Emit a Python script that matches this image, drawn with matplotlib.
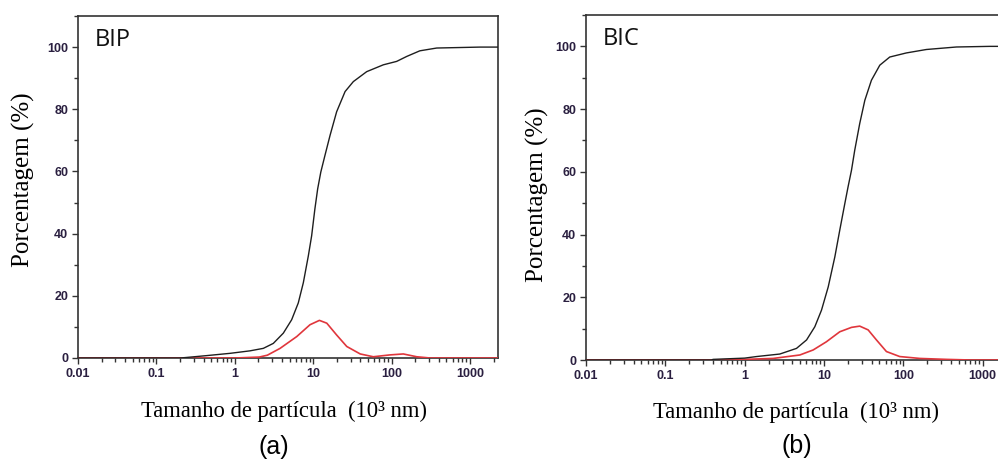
import matplotlib
matplotlib.use("Agg")
import matplotlib.pyplot as plt
from matplotlib.ticker import LogLocator, FixedLocator, MultipleLocator, NullFormatter

# ---- data ----
bip_cum_x = [0.01, 0.2, 0.225, 0.43, 0.87, 1.56, 2.31, 3.1, 4.16, 5.31, 6.45, 7.48, 8.66,
             9.55, 10.5, 11.4, 12.5, 14.1, 16.4, 19.9, 25.5, 32.5, 48.1, 78.4, 116, 156,
             229, 376, 1343, 2300]
bip_cum_y = [0, 0, 0.1, 0.75, 1.5, 2.3, 3.1, 4.7, 8.0, 12.3, 17.7, 24.2, 32.8,
             39.3, 47.9, 54.4, 59.8, 65.1, 71.6, 79.2, 85.7, 88.9, 92.1, 94.3, 95.4, 97.0,
             98.8, 99.7, 100, 100]
bip_freq_x = [0.01, 1.0, 2.05, 2.6, 3.78, 6.17, 9.1, 12.0, 14.9, 19.9, 26.8, 39.8, 58.4,
              95.5, 141, 209, 309, 2300]
bip_freq_y = [0, 0, 0.3, 0.9, 3.1, 6.9, 10.7, 12.1, 11.2, 7.4, 3.7, 1.3, 0.4,
              1.0, 1.3, 0.4, 0, 0]

bic_cum_x = [0.01, 0.38, 0.40, 1.0, 1.41, 2.77, 4.5, 6.03, 7.66, 9.3, 11.3, 13.7, 15.8,
             18.3, 20.1, 22.2, 24.4, 28.2, 32.7, 39.6, 50.5, 67.4, 109, 195, 467, 1225, 2300]
bic_cum_y = [0, 0, 0.2, 0.6, 1.1, 1.9, 3.7, 6.4, 10.6, 15.9, 23.3, 32.9, 41.4,
             49.9, 55.2, 60.5, 66.9, 75.4, 82.8, 89.2, 94.0, 96.6, 97.9, 99.0, 99.8, 100, 100]
bic_freq_x = [0.01, 0.4, 1.0, 2.29, 4.96, 7.3, 10.7, 15.8, 22.2, 28.2, 36.0, 45.8, 61.2,
              90, 161, 347, 700, 2300]
bic_freq_y = [0, 0, 0.2, 0.5, 1.6, 3.2, 5.8, 9.0, 10.4, 10.8, 9.6, 6.4, 2.7,
              1.1, 0.5, 0.2, 0, 0]

panel_names = ["BIP", "BIC"]
panel_letters = ["(a)", "(b)"]
x_ticks = [0.01, 0.1, 1, 10, 100, 1000]
x_tick_labels = ["0.01", "0.1", "1", "10", "100", "1000"]
y_ticks = [0, 20, 40, 60, 80, 100]

W, H = 998, 461
fig = plt.figure(figsize=(W / 100, H / 100), dpi=100)

def px_axes(left, top, right, bottom):
    return fig.add_axes([left / W, 1 - bottom / H, (right - left) / W, (bottom - top) / H])

ax_a = px_axes(78, 16, 498, 358)
ax_b = px_axes(586, 15, 1011, 360)

spine_c = "#333333"
tick_c = "#2a1f40"
black_c = "#1e1e1e"
red_c = "#e0363c"

data = [(bip_cum_x, bip_cum_y, bip_freq_x, bip_freq_y),
        (bic_cum_x, bic_cum_y, bic_freq_x, bic_freq_y)]

for ax, (cx, cy, fx, fy), name in zip([ax_a, ax_b], data, panel_names):
    ax.plot(fx, fy, color=red_c, lw=1.2, zorder=3, solid_joinstyle="round")
    ax.plot(cx, cy, color=black_c, lw=1.0, zorder=4, solid_joinstyle="round")
    ax.set_xscale("log")
    ax.set_xlim(0.01, 2275)
    ax.set_ylim(0, 110)
    ax.xaxis.set_major_locator(FixedLocator(x_ticks))
    ax.set_xticklabels(x_tick_labels)
    ax.xaxis.set_minor_locator(LogLocator(base=10, subs=range(2, 10), numticks=20))
    ax.xaxis.set_minor_formatter(NullFormatter())
    ax.yaxis.set_major_locator(FixedLocator(y_ticks))
    ax.yaxis.set_minor_locator(MultipleLocator(10))
    for s in ax.spines.values():
        s.set_color(spine_c)
        s.set_linewidth(1.2)
    ax.tick_params(which="both", direction="out", color=spine_c, top=False, right=False)
    ax.tick_params(which="major", length=4, width=1.0, labelsize=9, labelcolor=tick_c, pad=3)
    ax.tick_params(which="minor", length=3, width=1.0)
    for lab in ax.get_xticklabels() + ax.get_yticklabels():
        lab.set_fontweight("bold")
        lab.set_fontfamily("Liberation Sans")
    ax.text(0.04, 0.93, name, transform=ax.transAxes, fontsize=17, family="Open Sans",
            va="center", ha="left", color="#111111")

# axis titles and panel letters as figure text (pixel positions)
def ftext(x, y, s, **kw):
    fig.text(x / W, 1 - y / H, s, **kw)

serif = "Liberation Serif"
xlabel = "Tamanho de partícula  (10³ nm)"
ylabel = "Porcentagem (%)"
ftext(23, 180, ylabel, rotation=90, fontsize=18, family=serif, ha="center", va="center")
ftext(537, 195, ylabel, rotation=90, fontsize=18, family=serif, ha="center", va="center")
ftext(284, 411, xlabel, fontsize=16.3, family=serif, ha="center", va="center")
ftext(796, 412, xlabel, fontsize=16.3, family=serif, ha="center", va="center")
ftext(274, 447, panel_letters[0], fontsize=18, family="Liberation Sans", ha="center", va="center")
ftext(797, 446, panel_letters[1], fontsize=18, family="Liberation Sans", ha="center", va="center")

fig.savefig("out.png", dpi=100)
